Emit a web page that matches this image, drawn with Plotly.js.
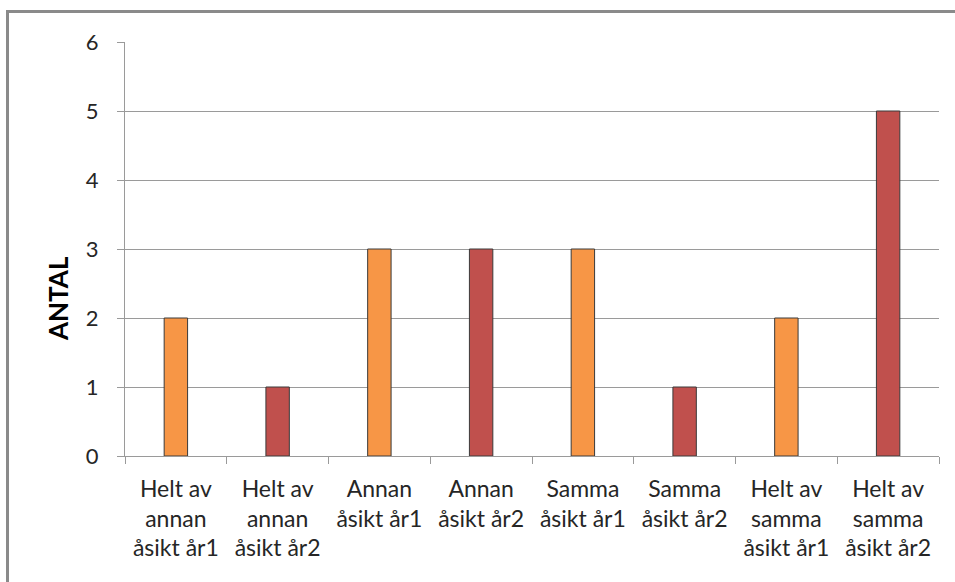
<!DOCTYPE html>
<html>
<head>
<meta charset="utf-8">
<script src="https://cdn.plot.ly/plotly-3.0.1.min.js"></script>
<style>
html,body{margin:0;padding:0;background:#fff;}
#wrap{position:relative;width:955px;height:582px;overflow:hidden;}
#chart{position:absolute;left:0;top:0;width:955px;height:582px;}
#frame{position:absolute;left:6px;top:10px;width:1000px;height:700px;border:3px solid #8a8a8a;pointer-events:none;}
</style>
</head>
<body>
<div id="wrap">
<div id="chart"></div>
<div id="frame"></div>
</div>
<script>
const categories = [
  "Helt av<br>annan<br>åsikt år1",
  "Helt av<br>annan<br>åsikt år2",
  "Annan<br>åsikt år1",
  "Annan<br>åsikt år2",
  "Samma<br>åsikt år1",
  "Samma<br>åsikt år2",
  "Helt av<br>samma<br>åsikt år1",
  "Helt av<br>samma<br>åsikt år2"
];
const values = [2, 1, 3, 3, 3, 1, 2, 5];
const barColors = ["#F79646", "#C0504D", "#F79646", "#C0504D", "#F79646", "#C0504D", "#F79646", "#C0504D"];
const yTicks = [0, 1, 2, 3, 4, 5, 6];
const yTitle = "ANTAL";

const fontFam = "Lato, 'Open Sans', sans-serif";

Plotly.newPlot("chart", [{
  type: "bar",
  x: categories,
  y: values,
  width: 0.23,
  marker: {color: barColors, line: {color: "#3a3a3a", width: 1}},
  hoverinfo: "none"
}], {
  width: 955, height: 582,
  margin: {l: 125, r: 16, t: 42, b: 126},
  paper_bgcolor: "#fff", plot_bgcolor: "#fff",
  showlegend: false,
  font: {family: fontFam, color: "#262626", size: 22},
  xaxis: {
    type: "category",
    showline: true, linecolor: "#9a9a9a", linewidth: 1,
    ticks: "outside", ticklen: 7, tickcolor: "#9a9a9a", tickson: "boundaries",
    showgrid: false, zeroline: false,
    ticklabelstandoff: 12,
    tickfont: {family: fontFam, size: 23, color: "#262626"},
    automargin: false
  },
  yaxis: {
    range: [0, 6],
    tickvals: yTicks,
    ticktext: yTicks.map(String),
    showline: true, linecolor: "#9a9a9a", linewidth: 1,
    ticks: "outside", ticklen: 7, tickcolor: "#9a9a9a",
    showgrid: true, gridcolor: "#9a9a9a", gridwidth: 1,
    zeroline: false,
    ticklabelstandoff: 14,
    tickfont: {family: fontFam, size: 22, color: "#262626"},
    automargin: false
  },
  annotations: [{
    text: "<b>" + yTitle + "</b>",
    xref: "paper", yref: "paper",
    x: (58 - 125) / (955 - 125 - 16), y: (456 - 299) / (456 - 42),
    xanchor: "center", yanchor: "middle",
    textangle: -90, showarrow: false,
    font: {family: fontFam, size: 26, color: "#000"}
  }]
}, {staticPlot: true});
</script>
</body>
</html>
